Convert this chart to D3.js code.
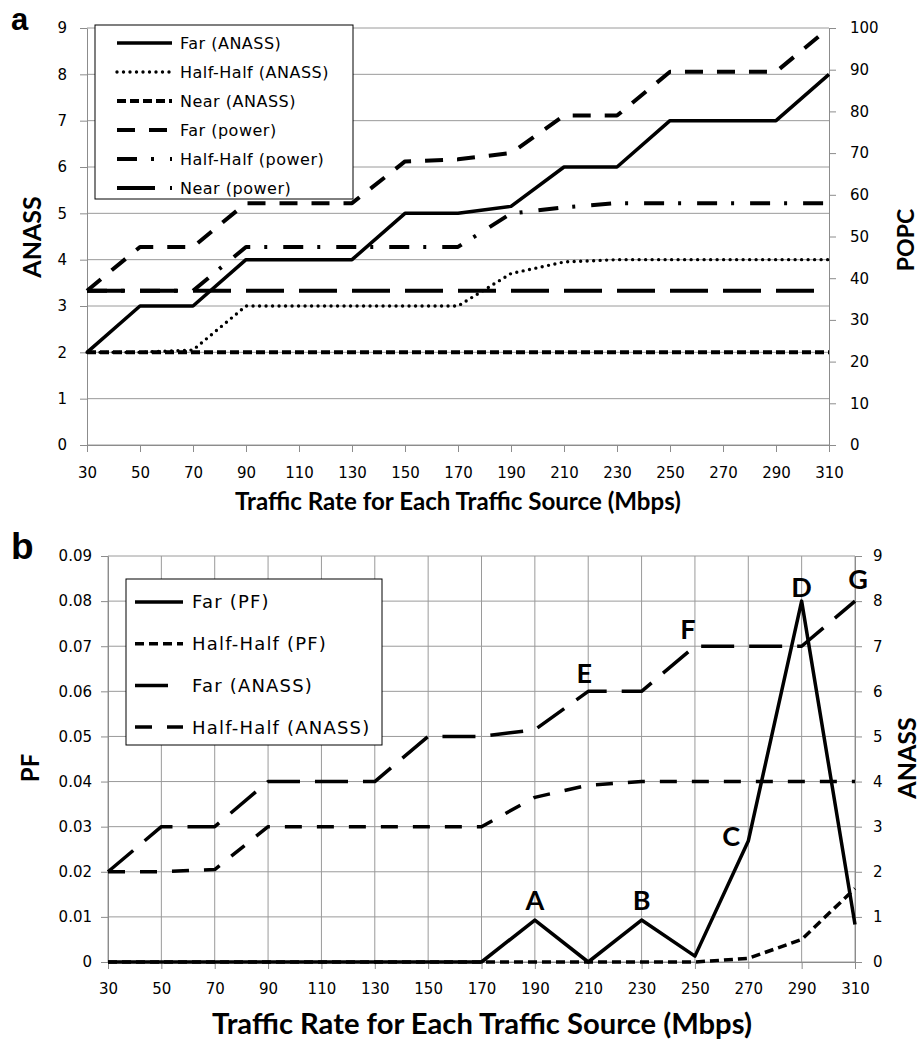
<!DOCTYPE html>
<html>
<head>
<meta charset="utf-8">
<script src="https://d3js.org/d3.v7.min.js"></script>
<style>
  body { margin: 0; background: #fff; }
  .tick text { font-family: "DejaVu Sans", sans-serif; fill: #000; }
  .axis path, .axis line { stroke: #8c8c8c; }
  .grid line { stroke: #9a9a9a; stroke-width: 1; }
  .ttl { font-family: Lato, sans-serif; font-weight: bold; fill: #000; }
  .leg { font-family: "DejaVu Sans", sans-serif; fill: #000; }
</style>
</head>
<body>
<script>
var width = 922,
    height = 1040;

// shared x categories (Mbps)
var rates = [30, 50, 70, 90, 110, 130, 150, 170, 190, 210, 230, 250, 270, 290, 310];

// panel a: ANASS (left axis) and POPC (right axis)
var farAnass  = [2, 3, 3, 4, 4, 4, 5, 5, 5.15, 6, 6, 7, 7, 7, 8];
var halfAnass = [2, 2, 2.05, 3, 3, 3, 3, 3, 3.7, 3.95, 4, 4, 4, 4, 4];
var nearAnass = [2, 2, 2, 2, 2, 2, 2, 2, 2, 2, 2, 2, 2, 2, 2];
var farPower  = [37, 47.5, 47.5, 58, 58, 58, 68, 68.5, 70, 79, 79, 89.5, 89.5, 89.5, 100];
var halfPower = [37, 37, 37, 47.5, 47.5, 47.5, 47.5, 47.5, 55.5, 57, 58, 58, 58, 58, 58];
var nearPower = [37, 37, 37, 37, 37, 37, 37, 37, 37, 37, 37, 37, 37, 37, 37];

// panel b: PF (left axis) and ANASS (right axis)
var farPF      = [0, 0, 0, 0, 0, 0, 0, 0, 0.0093, 0, 0.0093, 0.0013, 0.0268, 0.08, 0.0083];
var halfPF     = [0, 0, 0, 0, 0, 0, 0, 0, 0, 0, 0, 0, 0.0008, 0.005, 0.0163];
var farAnassB  = [2, 3, 3, 4, 4, 4, 5, 5, 5.15, 6, 6, 7, 7, 7, 8];
var halfAnassB = [2, 2, 2.05, 3, 3, 3, 3, 3, 3.65, 3.92, 4, 4, 4, 4, 4];

var anassTicks = [0, 1, 2, 3, 4, 5, 6, 7, 8, 9];
var popcTicks  = [0, 10, 20, 30, 40, 50, 60, 70, 80, 90, 100];
var pfTicks    = [0, 0.01, 0.02, 0.03, 0.04, 0.05, 0.06, 0.07, 0.08, 0.09];

// point labels in panel b: [label, rate, value, axis, dx, dy]
var marks = [
  ["A", 190, 0.0093, "pf", 0, -10],
  ["B", 230, 0.0093, "pf", 0, -10],
  ["C", 270, 0.0268, "pf", -17, 5],
  ["D", 290, 0.08, "pf", 0, -4],
  ["E", 210, 6, "an", -4, -8],
  ["F", 250, 7, "an", -7, -7],
  ["G", 310, 8, "an", 3, -12]
];

var svg = d3.select("body").append("svg")
    .attr("width", width)
    .attr("height", height);

svg.append("rect").attr("width", width).attr("height", height).attr("fill", "#fff");

function drawLine(g, x, y, vals, style) {
  var line = d3.line()
      .x(function(d, i) { return x(rates[i]); })
      .y(function(d) { return y(d); });
  g.append("path")
      .datum(vals)
      .attr("d", line)
      .attr("fill", "none")
      .attr("stroke", "#000")
      .attr("stroke-width", style.w)
      .attr("stroke-dasharray", style.dash)
      .attr("stroke-linecap", style.cap || "butt")
      .attr("stroke-linejoin", "round");
}

function legend(g, x0, y0, w, h, items, sx1, sx2, tx, ty0, step, fs, ls) {
  g.append("rect")
      .attr("x", x0).attr("y", y0).attr("width", w).attr("height", h)
      .attr("fill", "#fff").attr("stroke", "#000").attr("stroke-width", 1);
  items.forEach(function(it, i) {
    var yy = ty0 + i * step;
    g.append("line")
        .attr("x1", sx1).attr("x2", sx2).attr("y1", yy).attr("y2", yy)
        .attr("stroke", "#000")
        .attr("stroke-width", it.style.w)
        .attr("stroke-dasharray", it.style.dash)
        .attr("stroke-linecap", it.style.cap || "butt");
    g.append("text")
        .attr("class", "leg")
        .attr("x", tx).attr("y", yy)
        .attr("dy", "0.36em")
        .style("font-size", fs + "px")
        .style("letter-spacing", ls + "px")
        .text(it.name);
  });
}

// shrink/grow a title so it spans the same width as in the figure
function fitWidth(t, w) {
  var fs = parseFloat(t.style("font-size"));
  var len = t.node().getComputedTextLength();
  t.style("font-size", (fs * w / len) + "px");
}

// ---------------- panel a ----------------
var ax  = d3.scaleLinear().domain([30, 310]).range([87, 829]);
var ayL = d3.scaleLinear().domain([0, 9]).range([445, 28]);
var ayR = d3.scaleLinear().domain([0, 100]).range([445, 28]);

var ga = svg.append("g");

ga.append("g").attr("class", "grid")
  .selectAll("line")
  .data(anassTicks)
  .enter().append("line")
    .attr("x1", ax(30)).attr("x2", ax(310))
    .attr("y1", function(d) { return ayL(d); })
    .attr("y2", function(d) { return ayL(d); });

ga.append("g").attr("class", "axis")
    .attr("transform", "translate(0," + ayL(0) + ")")
    .call(d3.axisBottom(ax).tickValues(rates).tickSize(7).tickPadding(15))
    .selectAll("text").style("font-size", "15px");

ga.append("g").attr("class", "axis")
    .attr("transform", "translate(" + ax(30) + ",0)")
    .call(d3.axisLeft(ayL).tickValues(anassTicks).tickSize(7).tickPadding(13).tickSizeOuter(0))
    .selectAll("text").style("font-size", "15px");

ga.append("g").attr("class", "axis")
    .attr("transform", "translate(" + ax(310) + ",0)")
    .call(d3.axisRight(ayR).tickValues(popcTicks).tickSize(7).tickPadding(14).tickSizeOuter(0))
    .selectAll("text").style("font-size", "15px");

var stA = {
  far:   { w: 3.5, dash: null },
  half:  { w: 3.4, dash: "0,6.5", cap: "round" },
  near:  { w: 4, dash: "9,4" },
  farP:  { w: 4, dash: "18,14" },
  halfP: { w: 4, dash: "20,14,3,16" },
  nearP: { w: 4, dash: "38,15" }
};

drawLine(ga, ax, ayL, nearAnass, stA.near);
drawLine(ga, ax, ayR, nearPower, stA.nearP);
drawLine(ga, ax, ayL, halfAnass, stA.half);
drawLine(ga, ax, ayR, halfPower, stA.halfP);
drawLine(ga, ax, ayR, farPower, stA.farP);
drawLine(ga, ax, ayL, farAnass, stA.far);

legend(ga, 95, 25, 258, 174, [
  { name: "Far (ANASS)", style: stA.far },
  { name: "Half-Half (ANASS)", style: stA.half },
  { name: "Near (ANASS)", style: stA.near },
  { name: "Far (power)", style: stA.farP },
  { name: "Half-Half (power)", style: stA.halfP },
  { name: "Near (power)", style: stA.nearP }
], 117, 172, 180, 43, 29, 16, 0.5);

var xtA = ga.append("text").attr("class", "ttl")
    .attr("x", 458).attr("y", 510)
    .attr("text-anchor", "middle")
    .style("font-size", "19px")
    .text("Traffic Rate for Each Traffic Source (Mbps)");
fitWidth(xtA, 446);

ga.append("text").attr("class", "ttl")
    .attr("transform", "translate(41,237) rotate(-90)")
    .attr("text-anchor", "middle")
    .style("font-size", "25px")
    .text("ANASS");

ga.append("text").attr("class", "ttl")
    .attr("transform", "translate(914,240) rotate(-90)")
    .attr("text-anchor", "middle")
    .style("font-size", "23px")
    .text("POPC");

svg.append("text")
    .attr("x", 11).attr("y", 30)
    .style("font-family", "Liberation Sans, Arial, sans-serif")
    .style("font-weight", "bold")
    .style("font-size", "31px")
    .text("a");

// ---------------- panel b ----------------
var bx  = d3.scaleLinear().domain([30, 310]).range([108, 855]);
var byL = d3.scaleLinear().domain([0, 0.09]).range([962, 556]);
var byR = d3.scaleLinear().domain([0, 9]).range([962, 556]);

var gb = svg.append("g");

var gridB = gb.append("g").attr("class", "grid");
gridB.selectAll("line.h")
  .data(pfTicks)
  .enter().append("line").attr("class", "h")
    .attr("x1", bx(30)).attr("x2", bx(310))
    .attr("y1", function(d) { return byL(d); })
    .attr("y2", function(d) { return byL(d); });
gridB.selectAll("line.v")
  .data(rates)
  .enter().append("line").attr("class", "v")
    .attr("x1", function(d) { return bx(d); })
    .attr("x2", function(d) { return bx(d); })
    .attr("y1", byL(0)).attr("y2", byL(0.09));

gb.append("g").attr("class", "axis")
    .attr("transform", "translate(0," + byL(0) + ")")
    .call(d3.axisBottom(bx).tickValues(rates).tickSize(7).tickPadding(14))
    .selectAll("text").style("font-size", "15px");

gb.append("g").attr("class", "axis")
    .attr("transform", "translate(" + bx(30) + ",0)")
    .call(d3.axisLeft(byL).tickValues(pfTicks).tickSize(7).tickPadding(9).tickSizeOuter(0)
      .tickFormat(function(d) { return d === 0 ? "0" : d3.format(".2f")(d); }))
    .selectAll("text").style("font-size", "15px");

gb.append("g").attr("class", "axis")
    .attr("transform", "translate(" + bx(310) + ",0)")
    .call(d3.axisRight(byR).tickValues(anassTicks).tickSize(7).tickPadding(11).tickSizeOuter(0))
    .selectAll("text").style("font-size", "15px");

var stB = {
  farPF:  { w: 3.5, dash: null },
  halfPF: { w: 3.5, dash: "9,5" },
  farAn:  { w: 3.5, dash: "33,15" },
  halfAn: { w: 3.5, dash: "17,15" }
};

drawLine(gb, bx, byR, halfAnassB, stB.halfAn);
drawLine(gb, bx, byR, farAnassB, stB.farAn);
drawLine(gb, bx, byL, halfPF, stB.halfPF);
drawLine(gb, bx, byL, farPF, stB.farPF);

legend(gb, 126, 579, 256, 166, [
  { name: "Far (PF)", style: stB.farPF },
  { name: "Half-Half (PF)", style: stB.halfPF },
  { name: "Far (ANASS)", style: stB.farAn },
  { name: "Half-Half (ANASS)", style: stB.halfAn }
], 135, 183, 192, 602, 41.7, 18, 1.2);

gb.selectAll("text.mark")
  .data(marks)
  .enter().append("text")
    .attr("class", "ttl mark")
    .attr("text-anchor", "middle")
    .attr("x", function(d) { return bx(d[1]) + d[4]; })
    .attr("y", function(d) { return (d[3] === "pf" ? byL(d[2]) : byR(d[2])) + d[5]; })
    .style("font-size", "27px")
    .text(function(d) { return d[0]; });

var xtB = gb.append("text").attr("class", "ttl")
    .attr("x", 482).attr("y", 1034)
    .attr("text-anchor", "middle")
    .style("font-size", "22px")
    .text("Traffic Rate for Each Traffic Source (Mbps)");
fitWidth(xtB, 540);

gb.append("text").attr("class", "ttl")
    .attr("transform", "translate(39,768) rotate(-90)")
    .attr("text-anchor", "middle")
    .style("font-size", "24px")
    .text("PF");

gb.append("text").attr("class", "ttl")
    .attr("transform", "translate(916,758) rotate(-90)")
    .attr("text-anchor", "middle")
    .style("font-size", "25px")
    .text("ANASS");

svg.append("text")
    .attr("x", 11).attr("y", 559)
    .style("font-family", "Liberation Sans, Arial, sans-serif")
    .style("font-weight", "bold")
    .style("font-size", "37px")
    .text("b");
</script>
</body>
</html>
